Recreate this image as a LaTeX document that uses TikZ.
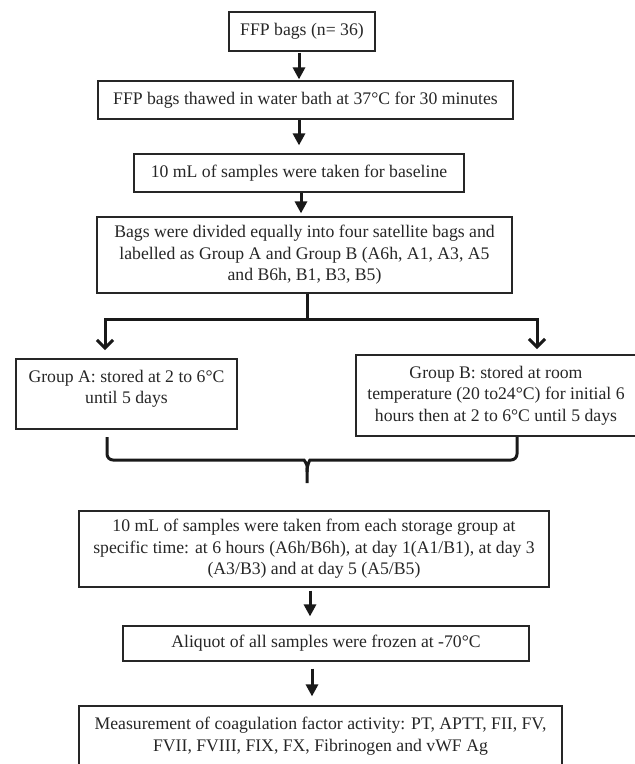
\documentclass[tikz,border=0pt]{standalone}
\usepackage{fontspec}
\setmainfont{Liberation Serif}
\usetikzlibrary{arrows.meta,calc}
\begin{document}
\begin{tikzpicture}[x=1pt,y=-1pt,
  box/.style={draw=black!85, line width=1.2pt, inner sep=0pt, align=center, font=\fontsize{17.7}{21.5}\selectfont, text=black!85},
  txt/.style={inner sep=0pt, align=center, font=\fontsize{17.7}{21.5}\selectfont, text=black!85},
  arr/.style={line width=3pt, draw=black!90, -{Triangle[length=12pt,width=12pt]}},
  splitarr/.style={line width=3pt, draw=black!90, -{Straight Barb[length=8pt,width=16pt,line width=3pt]}},
  thickline/.style={line width=3pt, draw=black!90}]
\useasboundingbox (0,0) rectangle (635,764);

\node[box, minimum width=146, minimum height=39] (b1) at (302,31.5) {FFP bags (n= 36)};
\node[box, minimum width=415, minimum height=38] (b2) at (305.5,100) {FFP bags thawed in water bath at 37°C for 30 minutes};
\node[box, minimum width=330, minimum height=38] (b3) at (299,173) {10 mL of samples were taken for baseline};
\node[box, minimum width=415, minimum height=76] (b4) at (304.5,255) {Bags were divided equally into four satellite bags and\\labelled as Group A and Group B (A6h, A1, A3, A5\\and B6h, B1, B3, B5)};
\node[box, minimum width=221, minimum height=70] (ga) at (126.5,394) {};
\node[txt] (gat) at (126.5,389) {Group A: stored at 2 to 6°C\\until 5 days};
\node[box, minimum width=280, minimum height=81] (gb) at (496,395.5) {Group B: stored at room\\temperature (20 to24°C) for initial 6\\hours then at 2 to 6°C until 5 days};
\node[box, minimum width=470, minimum height=76] (b5) at (314,549) {10 mL of samples were taken from each storage group at\\specific time: at 6 hours (A6h/B6h), at day 1(A1/B1), at day 3\\(A3/B3) and at day 5 (A5/B5)};
\node[box, minimum width=406, minimum height=35] (b6) at (326,643.5) {Aliquot of all samples were frozen at -70°C};
\node[box, minimum width=483, minimum height=80] (b7) at (320.5,746) {};
\node[txt] (b7t) at (320.5,736) {Measurement of coagulation factor activity: PT, APTT, FII, FV,\\FVII, FVIII, FIX, FX, Fibrinogen and vWF Ag};

% arrow x positions
\coordinate (c12) at (299,0);
\coordinate (c23) at (299,0);
\coordinate (c34) at (301,0);
\coordinate (c56) at (310,0);
\coordinate (c67) at (312,0);

\draw[arr, shorten <=1pt, shorten >=1pt] (b1.south -| c12) -- (b2.north -| c12);
\draw[arr, shorten >=8pt] (b2.south -| c23) -- (b3.north -| c23);
\draw[arr, shorten >=3pt] (b3.south -| c34) -- (b4.north -| c34);

% split
\coordinate (sp) at (307,319);
\coordinate (ta) at (105,350);
\coordinate (tb) at (537,349);
\draw[thickline] (b4.south -| sp) -- (sp);
\draw[splitarr] (sp) -| (ta);
\draw[splitarr] (sp) -| (tb);

% brace
\coordinate (bl) at (107,437);
\coordinate (br) at (517,437);
\coordinate (bt) at (307,483);
\draw[thickline, rounded corners=6pt] (bl) -- (107,460) -- (298,460) .. controls (304,460) and (307,464) .. (307,472) -- (bt);
\draw[thickline, rounded corners=6pt] (br) -- (517,460) -- (316,460) .. controls (310,460) and (307,464) .. (307,472);

\draw[arr, shorten <=3pt, shorten >=9pt] (b5.south -| c56) -- (b6.north -| c56);
\draw[arr, shorten <=7pt, shorten >=9pt] (b6.south -| c67) -- (b7.north -| c67);
\end{tikzpicture}
\end{document}
